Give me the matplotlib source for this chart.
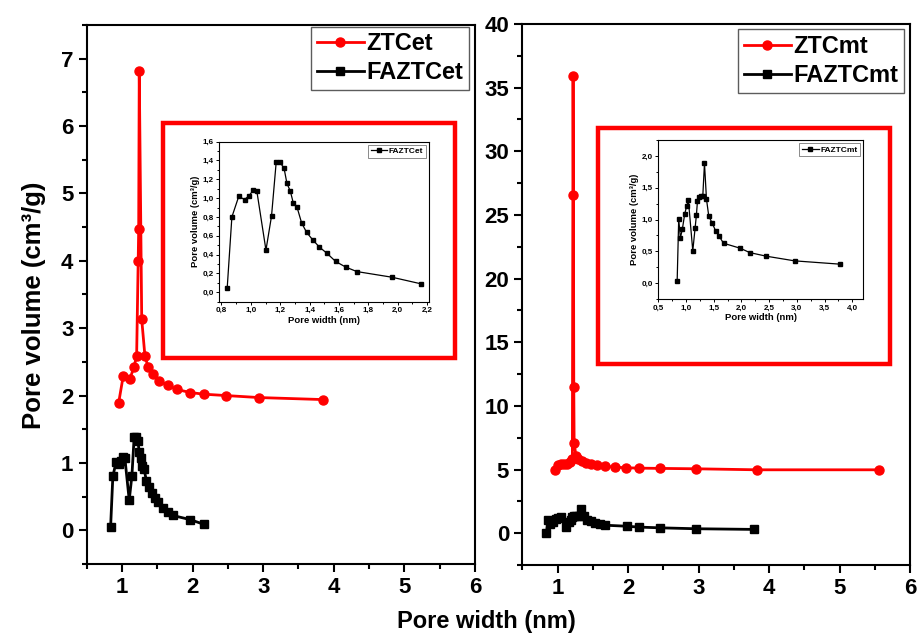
import numpy as np
import matplotlib
matplotlib.use('Agg')
import matplotlib.pyplot as plt
from matplotlib.ticker import MultipleLocator, FuncFormatter
from matplotlib.patches import Rectangle

plt.rcParams['font.family'] = ['Liberation Sans', 'DejaVu Sans']
plt.rcParams['font.weight'] = 'bold'
plt.rcParams['axes.labelweight'] = 'bold'

'''
Data read off the figure (pore width in nm, pore volume in cm3/g)
'''
ztcet_w = [0.953, 1.018, 1.113, 1.17, 1.208, 1.23, 1.237, 1.245, 1.28, 1.326,
           1.373, 1.443, 1.53, 1.647, 1.783, 1.963, 2.16, 2.47, 2.94, 3.85]
ztcet_v = [1.89, 2.29, 2.25, 2.42, 2.59, 4.0, 4.47, 6.81, 3.13, 2.58,
           2.42, 2.32, 2.22, 2.15, 2.09, 2.045, 2.02, 2.0, 1.97, 1.94]

faztcet_w = [0.839, 0.871, 0.918, 0.957, 0.987, 1.016, 1.041, 1.103, 1.141,
             1.173, 1.198, 1.226, 1.246, 1.269, 1.289, 1.314, 1.346, 1.38,
             1.421, 1.467, 1.517, 1.578, 1.647, 1.722, 1.961, 2.161]
faztcet_v = [0.043, 0.80, 1.02, 0.985, 1.024, 1.084, 1.074, 0.448, 0.81,
             1.387, 1.38, 1.32, 1.156, 1.074, 0.95, 0.907, 0.736, 0.636,
             0.558, 0.48, 0.416, 0.327, 0.267, 0.22, 0.16, 0.089]

ztcmt_w = [0.96, 1.01, 1.05, 1.09, 1.14, 1.18, 1.21, 1.22, 1.225, 1.23, 1.235,
           1.26, 1.29, 1.34, 1.41, 1.48, 1.56, 1.67, 1.81, 1.97, 2.16, 2.46,
           2.96, 3.83, 5.56]
ztcmt_v = [4.93, 5.32, 5.45, 5.40, 5.45, 5.58, 5.79, 35.9, 26.6, 11.5, 7.1,
           6.1, 5.85, 5.66, 5.5, 5.4, 5.32, 5.27, 5.19, 5.14, 5.11, 5.09,
           5.06, 4.98, 4.98]

faztcmt_w = [0.84, 0.868, 0.898, 0.934, 0.977, 1.013, 1.043, 1.122, 1.164,
             1.188, 1.206, 1.23, 1.266, 1.303, 1.333, 1.369, 1.411, 1.472,
             1.532, 1.598, 1.677, 1.98, 2.15, 2.45, 2.96, 3.78]
faztcmt_v = [0.031, 1.008, 0.71, 0.85, 1.09, 1.217, 1.30, 0.507, 0.867,
             1.076, 1.285, 1.347, 1.373, 1.373, 1.885, 1.321, 1.05, 0.945,
             0.825, 0.736, 0.627, 0.548, 0.48, 0.423, 0.35, 0.298]

RED = '#ff0000'

def comma(v, pos):
    return ('%.1f' % v).replace('.', ',')

def style_main(ax, ymaj, ymin):
    for s in ax.spines.values():
        s.set_linewidth(1.5)
    ax.xaxis.set_major_locator(MultipleLocator(1))
    ax.xaxis.set_minor_locator(MultipleLocator(0.5))
    ax.yaxis.set_major_locator(MultipleLocator(ymaj))
    ax.yaxis.set_minor_locator(MultipleLocator(ymin))
    ax.tick_params(which='both', direction='out', width=1.5, top=False, right=False)
    ax.tick_params(which='major', length=6, labelsize=16)
    ax.tick_params(which='minor', length=3.5)
    for lab in ax.get_xticklabels() + ax.get_yticklabels():
        lab.set_fontweight('bold')

def style_inset(ax):
    for s in ax.spines.values():
        s.set_linewidth(0.8)
    ax.tick_params(which='both', direction='out', width=0.7, top=False, right=False)
    ax.tick_params(which='major', length=2.5, labelsize=5.8, pad=1.5)
    ax.tick_params(which='minor', length=1.5)
    ax.xaxis.set_major_formatter(FuncFormatter(comma))
    ax.yaxis.set_major_formatter(FuncFormatter(comma))
    ax.set_xlabel('Pore width (nm)', fontsize=6.8, fontweight='bold', labelpad=1)
    ax.set_ylabel('Pore volume (cm\u00b3/g)', fontsize=6.8, fontweight='bold', labelpad=2)
    for lab in ax.get_xticklabels() + ax.get_yticklabels():
        lab.set_fontweight('bold')

fig = plt.figure(figsize=(9.17, 6.35), dpi=100)
ax1 = fig.add_axes([0.0945, 0.1118, 0.4234, 0.849])
ax2 = fig.add_axes([0.5696, 0.1102, 0.4228, 0.852])

# left panel
ax1.plot(ztcet_w, ztcet_v, '-o', color=RED, lw=2, ms=6.5, label='ZTCet')
ax1.plot(faztcet_w, faztcet_v, '-s', color='black', lw=2, ms=6, label='FAZTCet')
ax1.set_xlim(0.5, 6)
ax1.set_ylim(-0.5, 7.5)
style_main(ax1, 1, 0.5)
ax1.set_ylabel('Pore volume (cm\u00b3/g)', fontsize=18.5, fontweight='bold')
ax1.yaxis.set_label_coords(-0.105, 0.48)
leg = ax1.legend(loc='upper right', bbox_to_anchor=(0.985, 0.997), fontsize=17,
                 frameon=True, fancybox=False, edgecolor='#333333', borderaxespad=0,
                 handlelength=2.0, handletextpad=0.1, borderpad=0.25, labelspacing=0.25)
leg.get_frame().set_linewidth(1.0)
for t in leg.get_texts():
    t.set_fontweight('bold')

# right panel
ax2.plot(ztcmt_w, ztcmt_v, '-o', color=RED, lw=2, ms=6.5, label='ZTCmt')
ax2.plot(faztcmt_w, faztcmt_v, '-s', color='black', lw=2, ms=6, label='FAZTCmt')
ax2.set_xlim(0.5, 6)
ax2.set_ylim(-2.5, 40)
style_main(ax2, 5, 2.5)
leg = ax2.legend(loc='upper right', bbox_to_anchor=(0.985, 0.99), fontsize=17,
                 frameon=True, fancybox=False, edgecolor='#333333', borderaxespad=0,
                 handlelength=2.0, handletextpad=0.1, borderpad=0.25, labelspacing=0.25)
leg.get_frame().set_linewidth(1.0)
for t in leg.get_texts():
    t.set_fontweight('bold')

fig.text(486 / 917, 0.022, 'Pore width (nm)', fontsize=17, fontweight='bold',
         ha='center', va='center')

# red frames around the insets
fig.patches.append(Rectangle((0.1778, 0.4362), 0.3184, 0.3701, transform=fig.transFigure,
                             fill=False, edgecolor=RED, lw=3.2, zorder=5))
fig.patches.append(Rectangle((0.6521, 0.4268), 0.3184, 0.3717, transform=fig.transFigure,
                             fill=False, edgecolor=RED, lw=3.2, zorder=5))

# insets
in1 = fig.add_axes([0.2391, 0.5249, 0.229, 0.252])
in1.plot(faztcet_w, faztcet_v, '-s', color='black', lw=0.9, ms=2.2, label='FAZTCet')
in1.set_xlim(0.785, 2.215)
in1.set_ylim(-0.1, 1.6)
in1.xaxis.set_major_locator(MultipleLocator(0.2))
in1.xaxis.set_minor_locator(MultipleLocator(0.1))
in1.yaxis.set_major_locator(MultipleLocator(0.2))
in1.yaxis.set_minor_locator(MultipleLocator(0.1))
style_inset(in1)
lg = in1.legend(loc='upper right', fontsize=6, fancybox=False, edgecolor='#555555',
                borderaxespad=0.4, handlelength=2.0, handletextpad=0.2, borderpad=0.3)
lg.get_frame().set_linewidth(0.6)
for t in lg.get_texts():
    t.set_fontweight('bold')

in2 = fig.add_axes([0.7179, 0.5291, 0.2236, 0.2504])
in2.plot(faztcmt_w, faztcmt_v, '-s', color='black', lw=0.9, ms=2.2, label='FAZTCmt')
in2.set_xlim(0.5, 4.2)
in2.set_ylim(-0.25, 2.25)
in2.xaxis.set_major_locator(MultipleLocator(0.5))
in2.xaxis.set_minor_locator(MultipleLocator(0.25))
in2.yaxis.set_major_locator(MultipleLocator(0.5))
in2.yaxis.set_minor_locator(MultipleLocator(0.25))
style_inset(in2)
lg = in2.legend(loc='upper right', fontsize=6, fancybox=False, edgecolor='#555555',
                borderaxespad=0.4, handlelength=2.0, handletextpad=0.2, borderpad=0.3)
lg.get_frame().set_linewidth(0.6)
for t in lg.get_texts():
    t.set_fontweight('bold')

fig.savefig('out.png', dpi=100)
